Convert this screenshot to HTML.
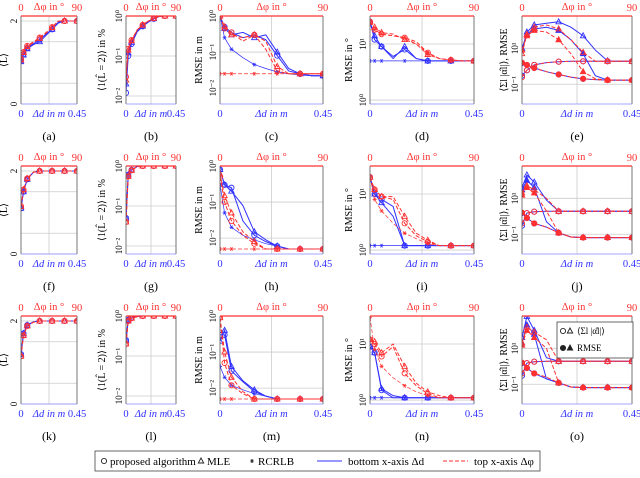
<!DOCTYPE html>
<html><head><meta charset="utf-8"><style>
body{margin:0;background:#fff}
svg{display:block;font-family:"Liberation Serif",serif}
</style></head><body>
<svg id="fig" width="640" height="478" viewBox="0 0 640 478" xmlns="http://www.w3.org/2000/svg"></svg>
<script>
// shared x grids (bottom axis in m, top axis in degrees)
const xD = [0,0.02,0.05,0.1,0.15,0.2,0.25,0.3,0.35,0.4,0.45];
const xP = [0,4,10,20,30,40,50,60,70,80,90];
// (a)
const a_bo=[1.05,1.2,1.35,1.45,1.55,1.68,1.8,1.97,2,2,2];
const a_bt=[1.02,1.18,1.33,1.43,1.5,1.65,1.8,1.95,2,2,2];
const a_ro=[1.08,1.25,1.4,1.5,1.6,1.72,1.85,2,2,2,2];
const a_rt=[1.06,1.24,1.38,1.48,1.58,1.7,1.84,2,2,2,2];
// (b)
const b_bo=[0.012,0.1,0.2,0.4,0.55,0.7,0.85,0.97,1,1,1];
const b_bt=[0.02,0.12,0.22,0.42,0.56,0.72,0.86,0.98,1,1,1];
const b_ro=[0.03,0.15,0.25,0.45,0.6,0.75,0.88,0.98,1,1,1];
const b_rt=[0.025,0.14,0.24,0.44,0.6,0.74,0.88,0.98,1,1,1];
// (c)
const c_bo=[1,0.5,0.35,0.25,0.3,0.22,0.08,0.03,0.025,0.022,0.022];
const c_bt=[1,0.45,0.3,0.35,0.25,0.3,0.1,0.035,0.025,0.022,0.022];
const c_bs=[1,0.25,0.12,0.07,0.045,0.035,0.028,0.025,0.023,0.022,0.022];
const c_ro=[1,0.45,0.35,0.2,0.3,0.12,0.03,0.025,0.025,0.025,0.025];
const c_rt=[1,0.5,0.3,0.25,0.3,0.2,0.04,0.025,0.025,0.025,0.025];
const c_rs=[0.025,0.025,0.025,0.025,0.025,0.025,0.025,0.025,0.025,0.025,0.025];
// (d)
const d_bo=[25,12,9,6,8,5.5,5,5,5,5,5];
const d_bt=[25,14,9,5.5,9,5.5,5,5,5,5,5];
const d_bs=[5,5,5,5,5,5,5,5,5,5,5];
const d_ro=[25,18,15,14,13,11,7,5.5,5.2,5,5];
const d_rt=[25,20,16,15,12,10,6.5,5.5,5.2,5,5];
const d_rs=[25,18,15,14,13,10,7,5.5,5.2,5,5];
// (e)
const e_bo=[0.3,0.6,1.2,1.6,1.8,1.9,1.9,1.9,1.9,1.9,1.9];
const e_bt=[8,80,200,250,300,150,50,8,2,1.9,1.9];
const e_bO=[1.5,1.2,0.8,0.5,0.35,0.25,0.2,0.18,0.17,0.17,0.17];
const e_bT=[10,60,120,150,100,30,5,0.3,0.17,0.17,0.17];
const e_ro=[0.25,0.6,1.2,1.6,1.8,1.9,1.9,1.9,1.9,1.9,1.9];
const e_rt=[5,60,150,200,120,30,6,1.9,1.9,1.9,1.9];
const e_rO=[1.6,1.2,0.8,0.5,0.35,0.25,0.2,0.18,0.17,0.17,0.17];
const e_rT=[8,50,100,80,30,5,0.5,0.2,0.17,0.17,0.17];
// (f)
const f_bo=[1.1,1.5,1.8,1.97,2,2,2,2,2,2,2];
const f_ro=[1.15,1.55,1.82,1.97,2,2,2,2,2,2,2];
// (g)
const g_bo=[0.05,0.6,0.8,0.97,1,1,1,1,1,1,1];
const g_ro=[0.04,0.55,0.78,0.96,1,1,1,1,1,1,1];
// (h)
const h_bo=[0.8,0.3,0.25,0.03,0.012,0.008,0.006,0.005,0.005,0.005,0.005];
const h_bt=[0.8,0.3,0.2,0.08,0.015,0.009,0.006,0.005,0.005,0.005,0.005];
const h_bs=[0.3,0.05,0.02,0.012,0.009,0.007,0.006,0.005,0.005,0.005,0.005];
const h_ro=[0.5,0.1,0.03,0.012,0.007,0.005,0.005,0.005,0.005,0.005,0.005];
const h_rt=[0.6,0.15,0.05,0.015,0.008,0.005,0.005,0.005,0.005,0.005,0.005];
const h_rs=[0.005,0.005,0.005,0.005,0.005,0.005,0.005,0.005,0.005,0.005,0.005];
// (i)
const i_bo=[20,10,8,6,1.2,1.2,1.2,1.2,1.2,1.2,1.2];
const i_bt=[20,10,7,4,1.2,1.2,1.2,1.2,1.2,1.2,1.2];
const i_bs=[1.2,1.2,1.2,1.2,1.2,1.2,1.2,1.2,1.2,1.2,1.2];
const i_ro=[20,12,9,8,3,1.8,1.4,1.2,1.2,1.2,1.2];
const i_rt=[20,12,9,9,4,2,1.5,1.2,1.2,1.2,1.2];
const i_rs=[20,8,5,3,2,1.6,1.3,1.2,1.2,1.2,1.2];
// (j)
const j_bo=[0.3,1.5,1.8,1.9,1.9,1.9,1.9,1.9,1.9,1.9,1.9];
const j_bt=[40,200,80,8,1.9,1.9,1.9,1.9,1.9,1.9,1.9];
const j_bO=[1.5,0.8,0.4,0.25,0.12,0.07,0.065,0.065,0.065,0.065,0.065];
const j_bT=[30,100,40,0.5,0.12,0.07,0.065,0.065,0.065,0.065,0.065];
const j_ro=[0.4,1.5,1.8,1.9,1.9,1.9,1.9,1.9,1.9,1.9,1.9];
const j_rt=[20,50,30,10,1.9,1.9,1.9,1.9,1.9,1.9,1.9];
const j_rO=[1.6,0.8,0.4,0.25,0.12,0.07,0.065,0.065,0.065,0.065,0.065];
const j_rT=[15,40,20,2,0.12,0.07,0.065,0.065,0.065,0.065,0.065];
// (k)
const k_bo=[1.2,1.7,1.9,1.98,2,2,2,2,2,2,2];
const k_ro=[1.15,1.65,1.88,1.97,2,2,2,2,2,2,2];
// (l)
const l_bo=[0.25,0.8,0.9,0.97,1,1,1,1,1,1,1];
const l_ro=[0.2,0.75,0.88,0.96,1,1,1,1,1,1,1];
// (m)
const m_bo=[0.3,0.3,0.03,0.015,0.008,0.006,0.005,0.005,0.005,0.005,0.005];
const m_bt=[0.2,0.4,0.04,0.016,0.009,0.006,0.005,0.005,0.005,0.005,0.005];
const m_bs=[0.04,0.02,0.012,0.009,0.007,0.006,0.005,0.005,0.005,0.005,0.005];
const m_ro=[0.9,0.05,0.012,0.007,0.005,0.005,0.005,0.005,0.005,0.005,0.005];
const m_rt=[0.9,0.1,0.02,0.008,0.005,0.005,0.005,0.005,0.005,0.005,0.005];
const m_rs=[0.005,0.005,0.005,0.005,0.005,0.005,0.005,0.005,0.005,0.005,0.005];
// (n)
const n_bo=[9,7,1.5,1.1,1.1,1.1,1.1,1.1,1.1,1.1,1.1];
const n_bt=[9,7,1.6,1.2,1.1,1.1,1.1,1.1,1.1,1.1,1.1];
const n_bs=[1.1,1.1,1.1,1.1,1.1,1.1,1.1,1.1,1.1,1.1,1.1];
const n_ro=[12,10,6,9,3,1.8,1.3,1.1,1.1,1.1,1.1];
const n_rt=[12,11,7,10,4,2,1.4,1.2,1.1,1.1,1.1];
const n_rs=[30,8,4,2.5,1.8,1.4,1.2,1.1,1.1,1.1,1.1];
// (o)
const o_bo=[0.3,1.5,1.8,1.9,1.9,1.9,1.9,1.9,1.9,1.9,1.9];
const o_bt=[40,600,100,3,1.9,1.9,1.9,1.9,1.9,1.9,1.9];
const o_bO=[1.5,0.8,0.4,0.2,0.12,0.07,0.065,0.065,0.065,0.065,0.065];
const o_bT=[20,200,60,0.2,0.12,0.07,0.065,0.065,0.065,0.065,0.065];
const o_ro=[0.4,1.5,1.8,1.9,1.9,1.9,1.9,1.9,1.9,1.9,1.9];
const o_rt=[20,150,80,30,1.9,1.9,1.9,1.9,1.9,1.9,1.9];
const o_rO=[1.6,0.8,0.4,0.25,0.12,0.07,0.065,0.065,0.065,0.065,0.065];
const o_rT=[15,100,40,10,0.12,0.07,0.065,0.065,0.065,0.065,0.065];

const NS="http://www.w3.org/2000/svg";
const svg=document.getElementById('fig');
const BLUE="#3030ff", RED="#ff3030";
function mk(tag,attrs,parent){const e=document.createElementNS(NS,tag);for(const k in attrs)e.setAttribute(k,attrs[k]);(parent||svg).appendChild(e);return e;}
function txt(s,x,y,attrs,parent){const t=mk('text',Object.assign({x:x,y:y},attrs),parent);t.textContent=s;return t;}

const cols=[[21,56],[126,50],[220,103],[370,104],[522,110]];
const labOff=[-14,-21,-18,-18,-15];
const rowsY=[16,166,316];
const H=88;
const yCfg=[
 {log:false,min:0,max:2.12,ticks:[0,2],grid:[0.5,1.5],lab:"⟨L̂⟩"},
 {log:true,min:-2.2,max:0,ticks:[-2,-1,0],lab:"⟨1(L̂ = 2)⟩ in %"},
 {log:true,min:-2.44,max:0,ticks:[-2,-1,0],lab:"RMSE in m"},
 {log:true,min:-0.07,max:1.5,ticks:[0,1],lab:"RMSE in °"},
 {log:true,min:-2.1,max:2.8,ticks:[-1,1],lab:"⟨Σl |α̂l|⟩, RMSE"}
];
function sup(v){const m={"-":"⁻","0":"⁰","1":"¹","2":"²"};return "10"+String(v).split("").map(c=>m[c]).join("");}

const panels=[
 {l:"a",s:[[a_bo,'b','o'],[a_bt,'b','t'],[a_ro,'r','o'],[a_rt,'r','t']]},
 {l:"b",s:[[b_bo,'b','o'],[b_bt,'b','t'],[b_ro,'r','o'],[b_rt,'r','t']]},
 {l:"c",s:[[c_bs,'b','s'],[c_bo,'b','o'],[c_bt,'b','t'],[c_rs,'r','s'],[c_ro,'r','o'],[c_rt,'r','t']]},
 {l:"d",s:[[d_bs,'b','s'],[d_bo,'b','o'],[d_bt,'b','t'],[d_rs,'r','s'],[d_ro,'r','o'],[d_rt,'r','t']]},
 {l:"e",s:[[e_bo,'b','o'],[e_bt,'b','t'],[e_bO,'b','O'],[e_bT,'b','T'],[e_ro,'r','o'],[e_rt,'r','t'],[e_rO,'r','O'],[e_rT,'r','T']]},
 {l:"f",s:[[f_bo,'b','o'],[f_bo,'b','t'],[f_ro,'r','o'],[f_ro,'r','t']]},
 {l:"g",s:[[g_bo,'b','o'],[g_bo,'b','t'],[g_ro,'r','o'],[g_ro,'r','t']]},
 {l:"h",s:[[h_bs,'b','s'],[h_bo,'b','o'],[h_bt,'b','t'],[h_rs,'r','s'],[h_ro,'r','o'],[h_rt,'r','t']]},
 {l:"i",s:[[i_bs,'b','s'],[i_bo,'b','o'],[i_bt,'b','t'],[i_rs,'r','s'],[i_ro,'r','o'],[i_rt,'r','t']]},
 {l:"j",s:[[j_bo,'b','o'],[j_bt,'b','t'],[j_bO,'b','O'],[j_bT,'b','T'],[j_ro,'r','o'],[j_rt,'r','t'],[j_rO,'r','O'],[j_rT,'r','T']]},
 {l:"k",s:[[k_bo,'b','o'],[k_bo,'b','t'],[k_ro,'r','o'],[k_ro,'r','t']]},
 {l:"l",s:[[l_bo,'b','o'],[l_bo,'b','t'],[l_ro,'r','o'],[l_ro,'r','t']]},
 {l:"m",s:[[m_bs,'b','s'],[m_bo,'b','o'],[m_bt,'b','t'],[m_rs,'r','s'],[m_ro,'r','o'],[m_rt,'r','t']]},
 {l:"n",s:[[n_bs,'b','s'],[n_bo,'b','o'],[n_bt,'b','t'],[n_rs,'r','s'],[n_ro,'r','o'],[n_rt,'r','t']]},
 {l:"o",s:[[o_bo,'b','o'],[o_bt,'b','t'],[o_bO,'b','O'],[o_bT,'b','T'],[o_ro,'r','o'],[o_rt,'r','t'],[o_rO,'r','O'],[o_rT,'r','T']]}
];

function marker(g,m,x,y,col){
 if(m==='o'||m==='O') mk('circle',{cx:x,cy:y,r:2.6,fill:m==='O'?col:'none',stroke:col,'stroke-width':0.9},g);
 else if(m==='t'||m==='T') mk('polygon',{points:`${x},${y-3} ${x-2.7},${y+2} ${x+2.7},${y+2}`,fill:m==='T'?col:'none',stroke:col,'stroke-width':0.9},g);
 else { mk('path',{d:`M${x-2},${y}H${x+2}M${x-1},${y-1.8}L${x+1},${y+1.8}M${x+1},${y-1.8}L${x-1},${y+1.8}`,stroke:col,'stroke-width':0.8},g); }
}

panels.forEach((p,idx)=>{
 const r=Math.floor(idx/5), c=idx%5;
 const [X,W]=cols[c]; const Y=rowsY[r]; const cfg=yCfg[c];
 const g=mk('g',{});
 
 
 const xs=(v,top)=> X + (top? v/90 : v/0.45)*W;
 const ys=v=>{const t=cfg.log?Math.log10(v):v;return Y+(cfg.max-t)/(cfg.max-cfg.min)*H;};
 const ysT=t=>Y+(cfg.max-t)/(cfg.max-cfg.min)*H;
 mk('line',{x1:X+W/2,x2:X+W/2,y1:Y,y2:Y+H,stroke:'#ccc','stroke-width':0.8},g);
 const gl=cfg.log?cfg.ticks:cfg.grid.concat(cfg.ticks);
 gl.forEach(t=>mk('line',{x1:X,x2:X+W,y1:ysT(t),y2:ysT(t),stroke:'#ccc','stroke-width':0.8},g));
 const clip='clip'+idx;
 const cp=mk('clipPath',{id:clip},g); mk('rect',{x:X,y:Y,width:W,height:H},cp);
 const sg=mk('g',{'clip-path':`url(#${clip})`},g);
 p.s.forEach((s,si)=>{
  const [vals,cl,m]=s; const top=cl==='r'; const col=top?RED:BLUE; const xa=top?xP:xD;
  const pts=vals.map((v,i)=>[xs(xa[i],top),ys(v)]);
  const path=mk('polyline',{points:pts.map(q=>q.join(',')).join(' '),fill:'none',stroke:col,'stroke-width':m==='s'?0.7:1,'stroke-dasharray':top?'4,2':'none'},sg);
  
  
  pts.forEach((q,i)=>{ if(i%2===0||i===1) marker(sg,m,q[0],q[1],col); });
 });
 mk('line',{x1:X,x2:X,y1:Y,y2:Y+H,stroke:'#555','stroke-width':0.8},g);
 mk('line',{x1:X+W,x2:X+W,y1:Y,y2:Y+H,stroke:'#555','stroke-width':0.8},g);
 mk('line',{x1:X,x2:X+W,y1:Y+H,y2:Y+H,stroke:'#8888ff','stroke-width':0.8},g);
 mk('line',{x1:X,x2:X+W,y1:Y,y2:Y,stroke:RED,'stroke-width':1.2},g);
 const fs=10.5;
 txt('0',X,Y+H+13,{fill:BLUE,'font-size':fs,'text-anchor':'middle'},g);
 txt('0.45',X+W,Y+H+13,{fill:BLUE,'font-size':fs,'text-anchor':'middle'},g);
 txt('Δd in m',X+W/2,Y+H+13,{fill:BLUE,'font-size':fs,'text-anchor':'middle','font-style':'italic'},g);
 txt('0',X,Y-5,{fill:RED,'font-size':fs,'text-anchor':'middle'},g);
 txt('90',X+W,Y-5,{fill:RED,'font-size':fs,'text-anchor':'middle'},g);
 txt('Δφ in °',X+W/2,Y-6,{fill:RED,'font-size':fs,'text-anchor':'middle'},g);
 cfg.ticks.forEach(t=>{
  const yy=ysT(t);
  txt(cfg.log?sup(t):String(t),X-4,yy,{'font-size':9,'text-anchor':'middle',transform:`rotate(-90 ${X-4} ${yy})`},g);
 });
 const lx=X+labOff[c], ly=Y+H/2;
 txt(cfg.lab,lx,ly,{'font-size':10,'text-anchor':'middle',transform:`rotate(-90 ${lx} ${ly})`},g);
 txt(`(${p.l})`,X+W/2,Y+H+36,{'font-size':12,'text-anchor':'middle'},g);
});

const lg=mk('g',{});


mk('rect',{x:557,y:322,width:76,height:36,fill:'#fff',stroke:'#444','stroke-width':0.8},lg);
marker(lg,'o',563,331,'#222');marker(lg,'t',570,331,'#222');
txt('⟨Σl |α̂l|⟩',577,334,{'font-size':9},lg);
marker(lg,'O',563,348,'#222');marker(lg,'T',570,348,'#222');
txt('RMSE',577,351,{'font-size':9},lg);

const bl=mk('g',{});


mk('rect',{x:95,y:451,width:445,height:20,fill:'#fff',stroke:'#444','stroke-width':0.8},bl);
marker(bl,'o',104,461,'#222'); txt('proposed algorithm',110,465,{'font-size':11},bl);
marker(bl,'t',201,461,'#222'); txt('MLE',207,465,{'font-size':11},bl);
marker(bl,'s',252,461,'#222'); txt('RCRLB',258,465,{'font-size':11},bl);
mk('line',{x1:317,x2:342,y1:461,y2:461,stroke:BLUE,'stroke-width':1},bl);
txt('bottom x-axis Δd',348,465,{'font-size':11},bl);
mk('line',{x1:443,x2:468,y1:461,y2:461,stroke:RED,'stroke-width':1,'stroke-dasharray':'4,2'},bl);
txt('top x-axis Δφ',474,465,{'font-size':11},bl);
</script>
</body></html>
